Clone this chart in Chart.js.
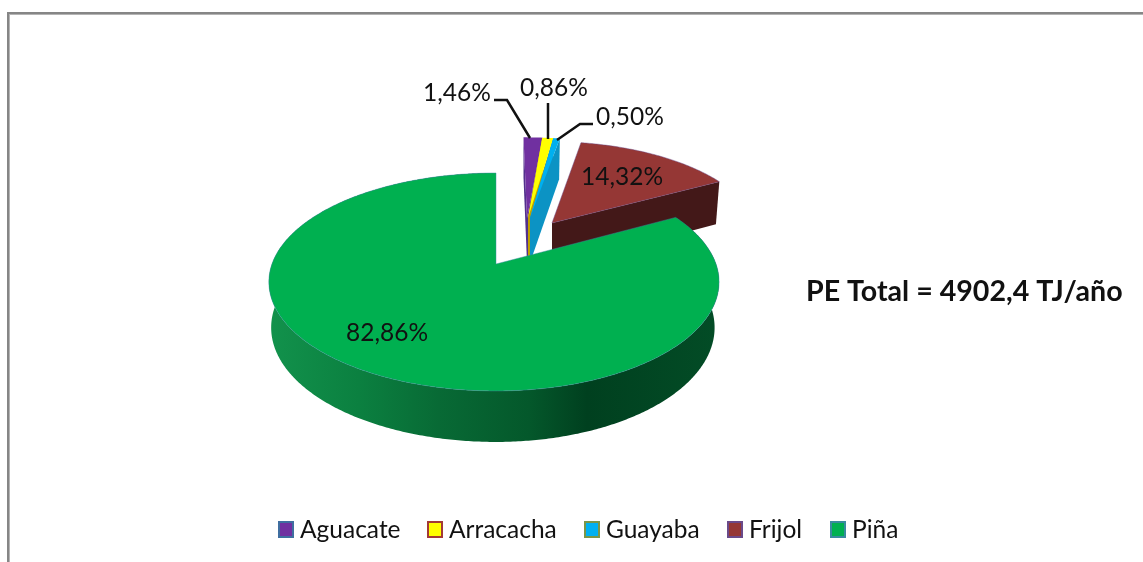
<!DOCTYPE html>
<html>
<head>
<meta charset="utf-8">
<title>PE Total</title>
<script src="https://cdn.jsdelivr.net/npm/chart.js@4"></script>
<style>
    html, body { margin: 0; padding: 0; background: #fff; overflow: hidden; }
    canvas { display: block; }
</style>
</head>
<body>
<canvas id="chart" width="1143" height="562"></canvas>
<script>
'use strict';

const categories = ['Aguacate', 'Arracacha', 'Guayaba', 'Frijol', 'Piña'];
const shares = [1.46, 0.86, 0.50, 14.32, 82.86];
const totalNote = 'PE Total = 4902,4 TJ/año';

// colours
const topColors = ['#7030A0', '#FFFF00', '#00B0F0', '#953735', '#00B050'];
const wallColors = ['#52308c', '#c0a000', '#0c93c4', '#431818', '#00401f'];
const legendBorders = ['#3f6ea0', '#a33a36', '#7a9648', '#6a4a8a', '#3a8a9f'];

// where each exploded slice sits on the page
const apexX = [527, 528, 530, 552, 496];
const apexY = [218, 218, 218, 223, 264];
const reachX = [1.08, 1.08, 1.08, 0.93, 1];
const reachY = [0.87, 0.87, 0.87, 0.88, 1];
const lean = [4, 5.6, 8, 3, 0];

// label places, same order as categories
const labelX = [457, 554, 630, 622, 387];
const labelY = [93, 88, 117, 177, 333];
const leaders = [
    [[494, 100], [507, 100], [530, 138]],
    [[548, 103], [548, 139]],
    [[593, 124], [580, 124], [557, 140]],
    null,
    null,
];
const legendX = [278, 427, 584, 727, 830];

const FONT = 'Lato, Carlito, "Open Sans", sans-serif';
const PERSPECTIVE = 0.165;
const RADIUS_Y = 106;
const DEPTH = 44.7;

function project(i, theta, r, z){
    const u = Math.sin(theta) * r * reachX[i];
    const v = -Math.cos(theta) * r * reachY[i];
    const s = 1 / (1 - PERSPECTIVE * v);
    const radiusX = u < 0 ? 224 : 220;
    const shrinkX = 1 - (u < 0 ? 0.01 : 0.02) * z;
    const shrinkY = 1 - 0.02 * z;
    return {
        x: apexX[i] + radiusX * u * s * shrinkX + lean[i] * v,
        y: apexY[i] + RADIUS_Y * v * s * shrinkY + DEPTH * z * s,
    };
}

function tracePoints(ctx, points){
    points.forEach((p, n) => {
        if(n == 0){
            ctx.moveTo(p.x, p.y);
        }else{
            ctx.lineTo(p.x, p.y);
        }
    });
}

function rimPoints(i, from, to, z){
    const steps = Math.max(4, Math.ceil(Math.abs(to - from) / 0.01));
    let points = [];
    for(let n = 0; n <= steps; n++){
        points.push(project(i, from + (to - from) * n / steps, 1, z));
    }
    return points;
}

function drawCutWall(ctx, i, theta){
    ctx.beginPath();
    tracePoints(ctx, [project(i, theta, 0, 0), project(i, theta, 1, 0), project(i, theta, 1, 1), project(i, theta, 0, 1)]);
    ctx.closePath();
    ctx.fillStyle = wallColors[i];
    ctx.fill();
}

function drawSlice(ctx, arc, i){
    // the library gives the angles, 0 is at the top after this
    const from = arc.startAngle + Math.PI / 2;
    const to = arc.endAngle + Math.PI / 2;

    if(i < 3){
        drawCutWall(ctx, i, from);
        drawCutWall(ctx, i, to);
    }else if(i == 3){
        drawCutWall(ctx, i, to);
    }else{
        // round wall of the big slice
        const g = ctx.createLinearGradient(269, 0, 717, 0);
        g.addColorStop(0, '#12924c');
        g.addColorStop(0.2, '#0b8040');
        g.addColorStop(0.38, '#086a35');
        g.addColorStop(0.58, '#04582b');
        g.addColorStop(0.71, wallColors[i]);
        g.addColorStop(1, '#034c26');
        const top = rimPoints(i, from, to, 0);
        const bottom = rimPoints(i, to, from, 1);
        ctx.beginPath();
        tracePoints(ctx, top.concat(bottom));
        ctx.closePath();
        ctx.fillStyle = g;
        ctx.fill();
    }

    ctx.beginPath();
    tracePoints(ctx, [project(i, from, 0, 0)].concat(rimPoints(i, from, to, 0)));
    ctx.closePath();
    ctx.fillStyle = arc.options.backgroundColor;
    ctx.fill();
    if(i >= 3){
        ctx.strokeStyle = arc.options.borderColor;
        ctx.globalAlpha = 0.45;
        ctx.lineWidth = 1;
        ctx.stroke();
        ctx.globalAlpha = 1;
    }
}

const pie3d = {
    id: 'pie3d',
    beforeDatasetDraw(chart, args){
        const ctx = chart.ctx;
        const arcs = args.meta.data;
        arcs.forEach((arc, i) => drawSlice(ctx, arc, i));
        return false;
    },
    beforeDraw(chart){
        const ctx = chart.ctx;
        ctx.fillStyle = '#fff';
        ctx.fillRect(0, 0, chart.width, chart.height);
        // frame, open on the right and at the bottom
        ctx.fillStyle = '#868686';
        ctx.fillRect(7, 12, chart.width - 7, 2);
        ctx.fillRect(7, 12, 2, chart.height - 12);
        ctx.fillStyle = '#b4b4b4';
        ctx.fillRect(9, 14, chart.width - 9, 1);
        ctx.fillRect(9, 14, 1, chart.height - 14);
    },
    afterDraw(chart){
        const ctx = chart.ctx;

        ctx.strokeStyle = '#111';
        ctx.lineWidth = 2.5;
        leaders.forEach(line => {
            if(line){
                ctx.beginPath();
                tracePoints(ctx, line.map(p => ({x: p[0], y: p[1]})));
                ctx.stroke();
            }
        });

        ctx.fillStyle = '#111';
        ctx.textAlign = 'center';
        ctx.textBaseline = 'middle';
        ctx.font = '24.5px ' + FONT;
        shares.forEach((value, i) => {
            ctx.fillText(value.toFixed(2).replace('.', ',') + '%', labelX[i], labelY[i]);
        });

        ctx.textAlign = 'left';
        ctx.font = 'bold 28.6px ' + FONT;
        ctx.fillText(totalNote, 806, 292);

        ctx.font = '24.5px ' + FONT;
        categories.forEach((name, i) => {
            ctx.fillStyle = topColors[i];
            ctx.fillRect(legendX[i] + 1, 522, 14, 15);
            ctx.strokeStyle = legendBorders[i];
            ctx.lineWidth = 2;
            ctx.strokeRect(legendX[i] + 1, 522, 14, 15);
            ctx.fillStyle = '#111';
            ctx.fillText(name, legendX[i] + 22, 530);
        });
    },
};

const ctx = document.getElementById('chart');

const wykres = new Chart(ctx, {
    type: 'pie',
    data: {
        labels: categories,
        datasets: [{
            data: shares,
            backgroundColor: topColors,
            borderColor: legendBorders,
        }],
    },
    options: {
        responsive: false,
        animation: false,
        plugins: {
            legend: { display: false },
            tooltip: { enabled: false },
        },
    },
    plugins: [pie3d],
});
</script>
</body>
</html>
